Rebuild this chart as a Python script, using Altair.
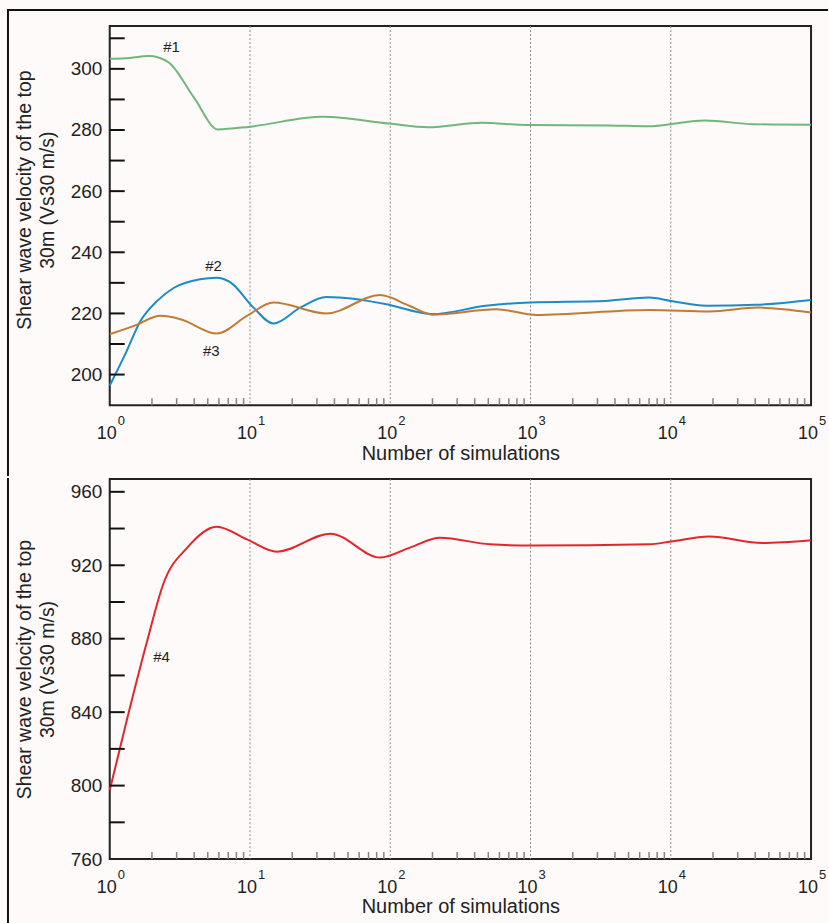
import altair as alt
import pandas as pd

# ---------------- data ----------------
series_names = ["#1", "#2", "#3", "#4"]
series_colors = ["#72b67e", "#1c8bc8", "#c07c36", "#e2262b"]

n1 = [1, 1.3, 1.9, 2.6, 4.0, 5.9, 10, 33, 98, 186, 449, 970, 3640, 6700, 17400, 39000, 100000]
v1 = [303.3, 303.5, 304.2, 302.3, 290.5, 280.2, 281.1, 284.3, 282.1, 280.9, 282.4, 281.6, 281.5, 281.2, 283.1, 281.9, 281.7]

n2 = [1, 1.3, 1.66, 2.18, 2.87, 4.4, 5.8, 7.3, 10.6, 14.7, 22.8, 35, 94, 163, 200, 480, 1000, 3400, 7000, 10000, 18000, 40000, 100000]
v2 = [196.4, 207.0, 217.6, 224.1, 228.4, 231.2, 231.7, 230.1, 221.9, 216.7, 221.9, 225.4, 223.0, 220.3, 219.8, 222.5, 223.6, 224.1, 225.2, 224.1, 222.5, 222.8, 224.4]

n3 = [1, 1.5, 2.3, 3.2, 5.8, 9.5, 14.7, 35, 84.5, 137, 200, 570, 1100, 7000, 19000, 42000, 100000]
v3 = [213.2, 216.0, 219.2, 218.1, 213.4, 219.2, 223.6, 220.0, 226.0, 222.5, 219.6, 221.4, 219.5, 221.1, 220.6, 221.9, 220.3]

n4 = [1, 1.34, 1.85, 2.43, 3.57, 5.8, 9.5, 15.6, 37.4, 85, 138, 226, 514, 990, 7000, 10000, 18700, 45000, 100000]
v4 = [797.5, 837.3, 878.9, 910.6, 929.6, 941.0, 934.1, 927.4, 937.2, 924.2, 929.6, 935.0, 931.4, 930.7, 931.4, 932.9, 935.7, 932.1, 933.6]

# annotation labels (series name, N position, value position)
ann_top_text = ["#1", "#2", "#3"]
ann_top_n = [2.76, 5.5, 5.3]
ann_top_v = [307.2, 235.5, 207.8]
ann_bot_text = ["#4"]
ann_bot_n = [2.34]
ann_bot_v = [870]

# x axis: decade labels 10^k
x_label_values = [1, 10, 100, 1000, 10000, 100000]
x_label_base = ["10", "10", "10", "10", "10", "10"]
x_label_exp = ["0", "1", "2", "3", "4", "5"]
grid_values = [10, 100, 1000, 10000]
minor_x = [k * 10 ** d for d in range(5) for k in range(2, 10)]

top_domain = [190, 314]
top_ticks = list(range(200, 311, 10))
top_labels = list(range(200, 301, 20))

bot_domain = [760, 967]
bot_ticks = list(range(780, 961, 20))
bot_labels = list(range(760, 961, 40))

y_title = ["Shear wave velocity of the top", "30m (Vs30 m/s)"]
x_title = "Number of simulations"

W = 703
H_TOP = 380
H_BOT = 381
TXT = "#222222"
LINE = "#111111"
FONT = "Liberation Sans"


def long_df(pairs):
    rows = []
    for name, ns, vs in pairs:
        for n, v in zip(ns, vs):
            rows.append({"s": name, "n": n, "v": v})
    return pd.DataFrame(rows)


df_top = long_df([("#1", n1, v1), ("#2", n2, v2), ("#3", n3, v3)])
df_bot = long_df([("#4", n4, v4)])
df_xlab = pd.DataFrame({"n": x_label_values, "b": x_label_base, "e": x_label_exp})

color_scale = alt.Scale(domain=series_names, range=series_colors)
one = pd.DataFrame({"a": [0]})


def panel(df, domain, ticks, labels, ann_t, ann_n, ann_v, height, title_y, frame):
    xs = alt.Scale(type="log", domain=[1, 100000], nice=False)
    ys = alt.Scale(domain=domain, nice=False, zero=False)
    x_axis = alt.Axis(values=x_label_values, labels=False, title=x_title)
    y_axis = alt.Axis(values=labels, title=y_title, titleY=title_y)
    X = alt.X("n:Q", scale=xs, axis=x_axis)
    Y = alt.Y("v:Q", scale=ys, axis=y_axis)

    grid = alt.Chart(pd.DataFrame({"n": grid_values})).mark_rule(
        color="#8a8a8a", strokeWidth=1, strokeDash=[2, 2]
    ).encode(x=X)

    lines = alt.Chart(df).mark_line(interpolate="monotone", strokeWidth=2).encode(
        x=X, y=Y,
        color=alt.Color("s:N", scale=color_scale, legend=None),
    )

    yt = alt.Chart(pd.DataFrame({"v": ticks})).mark_rule(color=LINE, strokeWidth=2).encode(
        y=Y, x=alt.value(0), x2=alt.value(15)
    )
    xt = alt.Chart(pd.DataFrame({"n": minor_x})).mark_rule(color="#8a8080", strokeWidth=1.5).encode(
        x=X, y=alt.value(height - 7), y2=alt.value(height)
    )
    ann = alt.Chart(pd.DataFrame({"t": ann_t, "n": ann_n, "v": ann_v})).mark_text(
        fontSize=15, color=TXT, align="center", baseline="middle", font=FONT
    ).encode(x=X, y=Y, text="t:N")

    xlab_base = alt.Chart(df_xlab).mark_text(
        fontSize=18, color=TXT, align="center", baseline="alphabetic", font=FONT, dx=-3
    ).encode(x=X, y=alt.value(height + 34), text="b:N")
    xlab_exp = alt.Chart(df_xlab).mark_text(
        fontSize=13, color=TXT, align="left", baseline="alphabetic", font=FONT, dx=8
    ).encode(x=X, y=alt.value(height + 20), text="e:N")

    layers = [grid, lines, yt, xt, ann, xlab_base, xlab_exp] + frame
    return alt.layer(*layers).properties(width=W, height=height)


def bar(x1, x2, y1, y2):
    return alt.Chart(one).mark_rect(color=LINE).encode(
        x=alt.value(x1), x2=alt.value(x2), y=alt.value(y1), y2=alt.value(y2))


frame_top = [
    bar(-103, 720, -17, -15),
    bar(-103, -101, -17, H_TOP + 71),
]
frame_bot = [
    bar(-103, -101, -1, H_BOT + 66),
]

top = panel(df_top, top_domain, top_ticks, top_labels, ann_top_text, ann_top_n, ann_top_v,
            H_TOP, 174, frame_top)
bot = panel(df_bot, bot_domain, bot_ticks, bot_labels, ann_bot_text, ann_bot_n, ann_bot_v,
            H_BOT, H_BOT / 2, frame_bot)

chart = (
    alt.vconcat(top, bot, spacing=0)
    .properties(padding={"left": 6, "top": 7, "right": 0, "bottom": 0})
    .configure(font=FONT, background="#fdfaf9")
    .configure_view(stroke="#222222", strokeWidth=2)
    .configure_axis(ticks=False, domain=False, grid=False, labelColor=TXT, titleColor=TXT,
                    titleFontWeight="normal", labelFont=FONT, titleFont=FONT)
    .configure_axisX(titleFontSize=20, titlePadding=38)
    .configure_axisY(labelFontSize=19, labelPadding=8, titleFontSize=19.5, titlePadding=13,
                     titleLineHeight=23)
)

chart.save("out.html", embed_options={"renderer": "svg", "actions": False})
